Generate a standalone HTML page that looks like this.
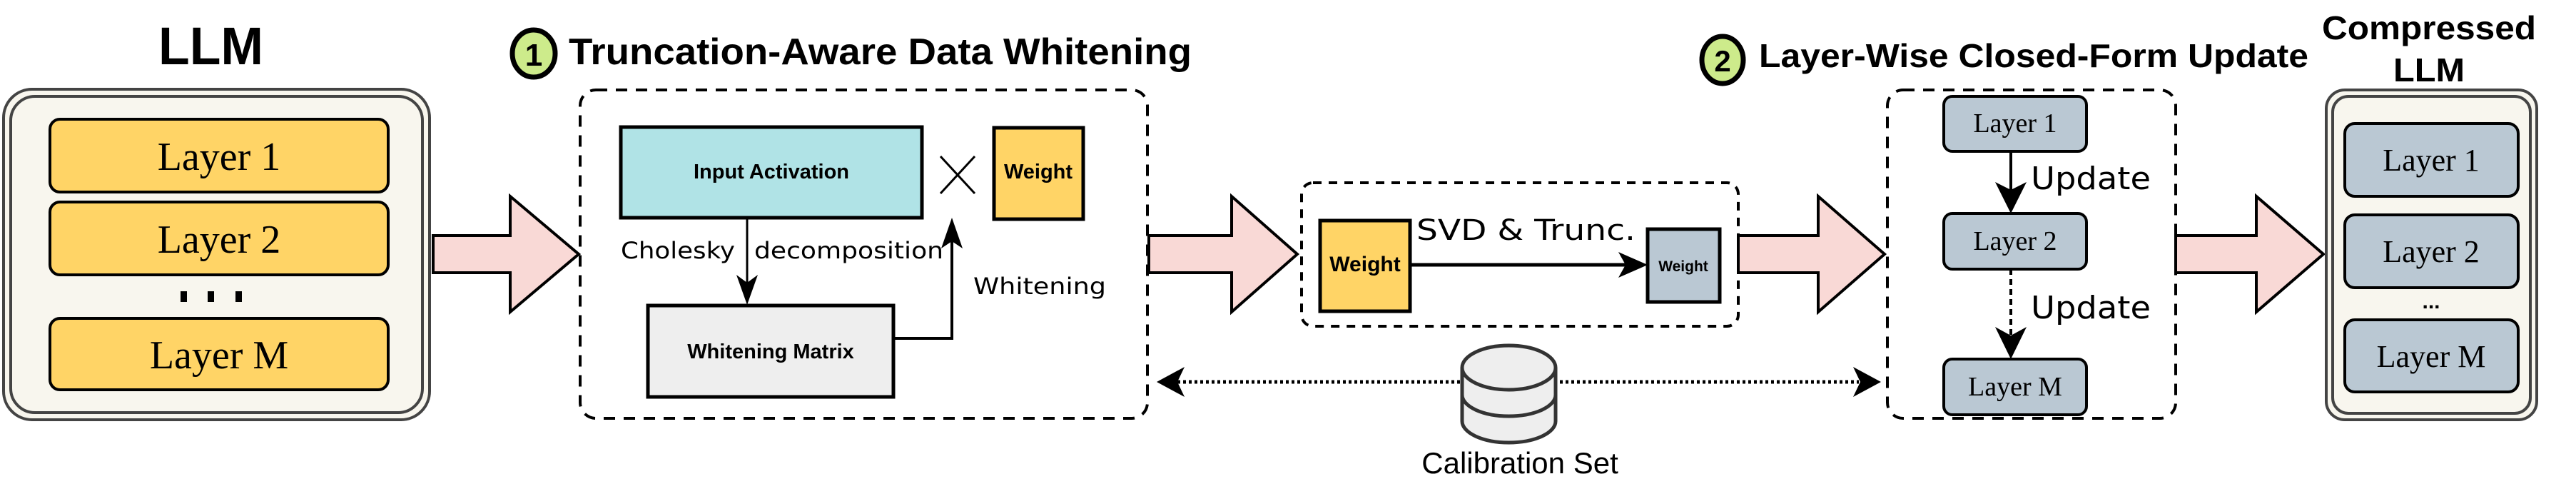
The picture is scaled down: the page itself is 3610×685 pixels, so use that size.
<!DOCTYPE html>
<html><head><meta charset="utf-8"><style>
html,body{margin:0;padding:0;background:#fff}
svg{display:block}
.t{font-family:"Liberation Sans",sans-serif;font-weight:bold}
.s{font-family:"Liberation Serif",serif}
.h{font-family:"DejaVu Sans","Liberation Sans",sans-serif}
</style></head><body>
<svg width="3610" height="685" viewBox="0 0 3610 685" xmlns="http://www.w3.org/2000/svg">
<defs>
<marker id="ah" markerWidth="10" markerHeight="10" refX="9" refY="5" orient="auto" markerUnits="userSpaceOnUse" viewBox="0 0 10 10">
</marker>
</defs>
<!-- LLM -->
<text x="222" y="90" class="t" font-size="74" textLength="147" lengthAdjust="spacingAndGlyphs">LLM</text>
<rect x="5" y="125" width="597" height="463" rx="40" fill="#f8f6ee" stroke="#444" stroke-width="4"/>
<rect x="15" y="135" width="577" height="443" rx="34" fill="none" stroke="#444" stroke-width="4"/>
<g fill="#ffd466" stroke="#000" stroke-width="4">
<rect x="70" y="167" width="474" height="102" rx="14"/>
<rect x="70" y="283" width="474" height="102" rx="14"/>
<rect x="70" y="446" width="474" height="100" rx="14"/>
</g>
<g class="s" font-size="56" text-anchor="middle">
<text x="307" y="238">Layer 1</text>
<text x="307" y="354">Layer 2</text>
<text x="307" y="516">Layer M</text>
</g>
<g fill="#000"><rect x="253" y="408" width="9" height="15"/><rect x="291" y="408" width="9" height="15"/><rect x="330" y="408" width="9" height="15"/></g>
<!-- big arrows -->
<g fill="#f9d9d6" stroke="#000" stroke-width="4" stroke-linejoin="miter">
<path d="M607 330 H715 V275 L811 356 L715 437 V382 H607 Z"/>
<path d="M1610 330 H1726 V275 L1818 356 L1726 437 V382 H1610 Z"/>
<path d="M2436 330 H2548 V275 L2641 356 L2548 437 V382 H2436 Z"/>
<path d="M3049 330 H3162 V275 L3256 356 L3162 437 V382 H3049 Z"/>
</g>
<!-- Title 1 -->
<ellipse cx="748" cy="75" rx="30" ry="33" fill="#cdeb8b" stroke="#000" stroke-width="7"/>
<text x="748" y="92" class="t" font-size="44" text-anchor="middle">1</text>
<text x="797" y="90" class="t" font-size="52" textLength="873" lengthAdjust="spacingAndGlyphs">Truncation-Aware Data Whitening</text>
<!-- dashed box 1 -->
<rect x="813" y="126" width="795" height="460" rx="22" fill="none" stroke="#000" stroke-width="4" stroke-dasharray="16,12"/>
<rect x="870" y="178" width="422" height="127" fill="#b0e3e6" stroke="#000" stroke-width="5"/>
<text x="1081" y="250" class="t" font-size="29" text-anchor="middle">Input Activation</text>
<g stroke="#000" stroke-width="3"><line x1="1318" y1="219" x2="1366" y2="271"/><line x1="1366" y1="219" x2="1318" y2="271"/></g>
<rect x="1393" y="179" width="125" height="128" fill="#ffd466" stroke="#000" stroke-width="5"/>
<text x="1455" y="250" class="t" font-size="29" text-anchor="middle">Weight</text>
<line x1="1047" y1="305" x2="1047" y2="400" stroke="#000" stroke-width="3"/>
<path d="M1032 385 L1047 427 L1062 385 L1047 396 Z" fill="#000"/>
<rect x="908" y="428" width="344" height="128" fill="#eeeeee" stroke="#000" stroke-width="5"/>
<text x="1080" y="502" class="t" font-size="29" text-anchor="middle">Whitening Matrix</text>
<polyline points="1252,474 1334,474 1334,335" fill="none" stroke="#000" stroke-width="4"/>
<path d="M1319 348 L1334 305 L1349 348 L1334 338 Z" fill="#000"/>
<text x="870" y="362" class="h" font-size="32" textLength="160" lengthAdjust="spacingAndGlyphs">Cholesky</text>
<text x="1057" y="362" class="h" font-size="32" textLength="265" lengthAdjust="spacingAndGlyphs">decomposition</text>
<text x="1364" y="412" class="h" font-size="32" textLength="186" lengthAdjust="spacingAndGlyphs">Whitening</text>
<!-- SVD box -->
<rect x="1824" y="256" width="612" height="201" rx="16" fill="none" stroke="#000" stroke-width="4" stroke-dasharray="12,10"/>
<rect x="1850" y="309" width="126" height="127" fill="#ffd466" stroke="#000" stroke-width="5"/>
<text x="1913" y="380" class="t" font-size="30" text-anchor="middle">Weight</text>
<line x1="1976" y1="371" x2="2290" y2="371" stroke="#000" stroke-width="5"/>
<path d="M2268 353 L2309 371 L2268 389 L2278 371 Z" fill="#000"/>
<rect x="2309" y="321" width="101" height="102" fill="#bac8d3" stroke="#000" stroke-width="5"/>
<text x="2359" y="380" class="t" font-size="21" text-anchor="middle">Weight</text>
<text x="1985" y="336" class="h" font-size="40" textLength="307" lengthAdjust="spacingAndGlyphs">SVD &amp; Trunc.</text>
<!-- Title 2 -->
<ellipse cx="2414" cy="84" rx="29" ry="33" fill="#cdeb8b" stroke="#000" stroke-width="7"/>
<text x="2414" y="100" class="t" font-size="42" text-anchor="middle">2</text>
<text x="2465" y="94" class="t" font-size="46" textLength="770" lengthAdjust="spacingAndGlyphs">Layer-Wise Closed-Form Update</text>
<!-- dashed box 3 -->
<rect x="2645" y="126" width="404" height="460" rx="22" fill="none" stroke="#000" stroke-width="4" stroke-dasharray="16,12"/>
<g fill="#bac8d3" stroke="#000" stroke-width="4">
<rect x="2724" y="135" width="200" height="77" rx="12"/>
<rect x="2724" y="299" width="200" height="78" rx="12"/>
<rect x="2724" y="503" width="200" height="78" rx="12"/>
</g>
<g class="s" font-size="38" text-anchor="middle">
<text x="2824" y="185">Layer 1</text>
<text x="2824" y="350">Layer 2</text>
<text x="2824" y="554">Layer M</text>
</g>
<line x1="2818" y1="212" x2="2818" y2="270" stroke="#000" stroke-width="4"/>
<path d="M2796 255 L2818 299 L2840 255 L2818 266 Z" fill="#000"/>
<line x1="2818" y1="377" x2="2818" y2="470" stroke="#000" stroke-width="4" stroke-dasharray="8,6"/>
<path d="M2796 458 L2818 503 L2840 458 L2818 470 Z" fill="#000"/>
<text x="2846" y="265" class="h" font-size="44" textLength="168" lengthAdjust="spacingAndGlyphs">Update</text>
<text x="2846" y="446" class="h" font-size="44" textLength="168" lengthAdjust="spacingAndGlyphs">Update</text>
<!-- Compressed LLM -->
<text x="3404" y="55" class="t" font-size="46" text-anchor="middle" textLength="300" lengthAdjust="spacingAndGlyphs">Compressed</text>
<text x="3404" y="114" class="t" font-size="46" text-anchor="middle" textLength="100" lengthAdjust="spacingAndGlyphs">LLM</text>
<rect x="3260" y="126" width="295" height="462" rx="26" fill="#f8f6ee" stroke="#444" stroke-width="4"/>
<rect x="3269" y="135" width="277" height="444" rx="22" fill="none" stroke="#444" stroke-width="4"/>
<g fill="#bac8d3" stroke="#000" stroke-width="4">
<rect x="3286" y="173" width="243" height="102" rx="14"/>
<rect x="3286" y="301" width="243" height="102" rx="14"/>
<rect x="3286" y="448" width="243" height="101" rx="14"/>
</g>
<g class="s" font-size="44" text-anchor="middle">
<text x="3407" y="239">Layer 1</text>
<text x="3407" y="367">Layer 2</text>
<text x="3407" y="514">Layer M</text>
</g>
<text x="3407" y="432" class="t" font-size="30" text-anchor="middle">...</text>
<!-- calibration -->
<line x1="1650" y1="535" x2="2605" y2="535" stroke="#000" stroke-width="5" stroke-dasharray="4,4"/>
<path d="M1621 535 L1660 514 L1650 535 L1660 556 Z" fill="#000"/>
<path d="M2636 535 L2597 514 L2607 535 L2597 556 Z" fill="#000"/>
<g fill="#eeeeee" stroke="#333" stroke-width="5">
<path d="M2049 515 V590 A65.5 30 0 0 0 2180 590 V515"/>
<path d="M2049 553 A65.5 30 0 0 0 2180 553" fill="none"/>
<ellipse cx="2114.5" cy="515" rx="65.5" ry="31"/>
</g>
<text x="2130" y="663" font-family="Liberation Sans, sans-serif" font-size="42" text-anchor="middle">Calibration Set</text>
</svg>
</body></html>
